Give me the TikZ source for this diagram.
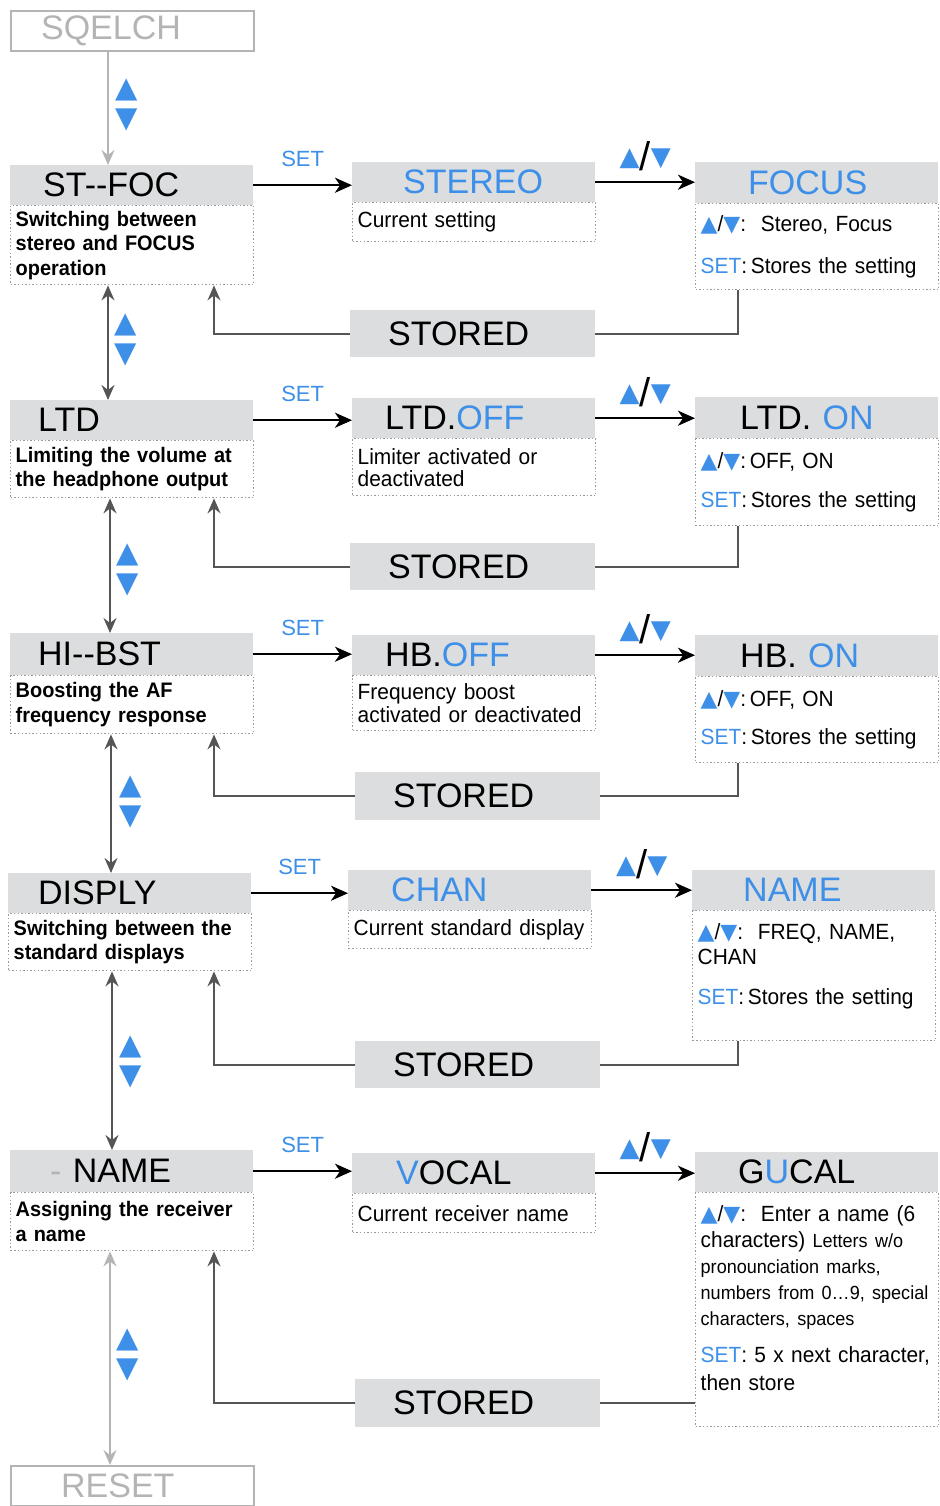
\documentclass[tikz,border=0pt]{standalone}
\usepackage{fontspec}
\setmainfont{Liberation Sans}
\newfontfamily\condfont[FakeStretch=0.95]{Liberation Sans}
\newfontfamily\symfont{DejaVu Sans}
\usetikzlibrary{arrows.meta,positioning}
\definecolor{boxgray}{HTML}{DCDDDE}
\definecolor{setblue}{HTML}{3D8FE8}
\definecolor{darkline}{HTML}{555555}
\definecolor{fadegray}{HTML}{B4B4B4}
\definecolor{dotgray}{HTML}{9A9A9A}
\newcommand{\titlefont}{\fontsize{34}{40}\selectfont}
\newcommand{\descfont}{\condfont\bfseries\fontsize{21}{24.5}\selectfont\hyphenpenalty=10000}
\newcommand{\infofont}{\condfont\fontsize{22}{25}\selectfont\hyphenpenalty=10000}
\newcommand{\smallinfo}{\fontsize{19}{25}\selectfont}
\newcommand{\bluetri}[1]{{\symfont\color{setblue}#1}}
\newcommand{\updn}{\bluetri{▲}/\bluetri{▼}}
\newcommand{\setkey}{\textcolor{setblue}{SET}}
\newcommand{\keyslash}{\bluetri{▲}\raisebox{-5pt}{\fontsize{40}{40}\selectfont/}\bluetri{▼}}
\tikzset{
  titlebox/.style={
    anchor=north west,
    fill=boxgray,
    inner sep=0pt,
    minimum width=243pt,
    minimum height=40pt,
    text width=243pt,
    align=left,
    font=\titlefont
  },
  storedbox/.style={
    titlebox,
    minimum width=245pt,
    text width=245pt,
    minimum height=47pt
  },
  pagebox/.style={
    titlebox,
    fill=none,
    draw=fadegray,
    line width=2.2pt,
    text=fadegray
  },
  descbox/.style={
    anchor=north west,
    draw=dotgray,
    line width=1.4pt,
    dash pattern=on 1.4pt off 2.2pt,
    inner xsep=5pt,
    inner ysep=0pt,
    minimum width=243pt,
    text width=233pt,
    align=left,
    font=\descfont
  },
  infobox/.style={
    descbox,
    font=\infofont
  },
  flow/.style={
    -{Stealth[length=17pt,width=15pt,inset=5pt]},
    line width=2.2pt
  },
  back/.style={
    draw=darkline,
    line width=2pt
  },
  backarrow/.style={
    back,
    -{Stealth[length=15pt,width=13pt,inset=5pt]}
  },
  updown/.style={
    back,
    {Stealth[length=15pt,width=13pt,inset=5pt]}-{Stealth[length=15pt,width=13pt,inset=5pt]}
  },
  setlabel/.style={
    font=\fontsize{22}{22}\selectfont,
    text=setblue,
    inner sep=0pt
  },
  keylabel/.style={
    font=\fontsize{26}{26}\selectfont,
    inner sep=0pt
  },
  keypair/.style={
    font=\symfont\fontsize{29}{30}\selectfont,
    align=center,
    inner sep=0pt
  }
}

\begin{document}
\begin{tikzpicture}[x=1pt,y=-1pt]
\useasboundingbox (0,0) rectangle (939,1506);

% bodies first, titles on top
\node[descbox, minimum height=79pt] (stfocbody) at (10,205) {Switching between\\stereo and FOCUS\\operation};
\node[infobox, minimum height=39pt] (stereobody) at (352,202) {Current setting};
\node[infobox, minimum height=86pt] (focusbody) at (695,203) {\updn:\ \ Stereo, Focus\\[17pt]\setkey:\,Stores the setting};

\node[descbox, minimum height=57pt] (ltdbody) at (10,440) {Limiting the volume at\\the headphone output};
\node[infobox, minimum height=57pt] (ltdoffbody) at (352,438) {Limiter activated or\\[-3pt]deactivated};
\node[infobox, minimum height=87pt] (ltdonbody) at (695,438) {\updn:\,OFF, ON\\[14pt]\setkey:\,Stores the setting};

\node[descbox, minimum height=58pt] (hibstbody) at (10,675) {Boosting the AF\\frequency response};
\node[infobox, minimum height=55pt] (hboffbody) at (352,675) {Frequency boost\\[-2pt]activated or deactivated};
\node[infobox, minimum height=86pt] (hbonbody) at (695,676) {\updn:\,OFF, ON\\[13pt]\setkey:\,Stores the setting};

\node[descbox, minimum height=57pt] (displybody) at (8,913) {Switching between the\\standard displays};
\node[infobox, minimum height=38pt] (chanbody) at (348,910) {Current standard display};
\node[infobox, minimum height=130pt] (nameselbody) at (692,910) {\updn:\ \ FREQ, NAME,\\CHAN\\[15pt]\setkey:\,Stores the setting\\[-2pt]\mbox{}};

\node[descbox, minimum height=58pt] (rxnamebody) at (10,1192) {Assigning the receiver\\a name};
\node[infobox, minimum height=39pt] (vocalbody) at (352,1193) {Current receiver name};
\node[infobox, minimum height=234pt, font=\infofont\fontsize{22}{26}\selectfont] (gucalbody) at (695,1192) {\updn:\ \ Enter a name (6\\
characters) {\smallinfo Letters w/o}\\
{\smallinfo pronounciation marks,}\\
{\smallinfo numbers from 0…9, special}\\
{\smallinfo characters, spaces}\\[11pt]
\setkey: 5 x next character,\\[2pt]
then store\\[-2pt]\mbox{}};

% titles
\node[pagebox] (sqelch) at (10,10) {\hspace*{30pt}SQELCH};
\node[titlebox] (stfoc) at (10,165) {\hspace*{33pt}ST-{}-FOC};
\node[titlebox] (stereo) at (352,162) {\hspace*{51pt}\textcolor{setblue}{STEREO}};
\node[titlebox, minimum height=41pt] (focus) at (695,162) {\hspace*{53pt}\textcolor{setblue}{FOCUS}};
\node[storedbox] (stored1) at (350,310) {\hspace*{38pt}STORED};

\node[titlebox] (ltd) at (10,400) {\hspace*{28pt}LTD};
\node[titlebox] (ltdoff) at (352,398) {\hspace*{33pt}LTD.\textcolor{setblue}{OFF}};
\node[titlebox, minimum height=41pt] (ltdon) at (695,397) {\hspace*{45pt}LTD. \textcolor{setblue}{ON}};
\node[storedbox] (stored2) at (350,543) {\hspace*{38pt}STORED};

\node[titlebox, minimum height=42pt] (hibst) at (10,633) {\hspace*{28pt}HI-{}-BST};
\node[titlebox] (hboff) at (352,635) {\hspace*{33pt}HB.\textcolor{setblue}{OFF}};
\node[titlebox, minimum height=41pt] (hbon) at (695,635) {\hspace*{45pt}HB. \textcolor{setblue}{ON}};
\node[storedbox, minimum width=244pt, minimum height=48pt] (stored3) at (355,772) {\hspace*{38pt}STORED};

\node[titlebox] (disply) at (8,873) {\hspace*{30pt}DISPLY};
\node[titlebox] (chan) at (348,870) {\hspace*{43pt}\textcolor{setblue}{CHAN}};
\node[titlebox] (namesel) at (692,870) {\hspace*{51pt}\textcolor{setblue}{NAME}};
\node[storedbox, minimum width=244pt] (stored4) at (355,1041) {\hspace*{38pt}STORED};

\node[titlebox, minimum height=42pt] (rxname) at (10,1150) {\hspace*{40pt}\textcolor{fadegray}{-} NAME};
\node[titlebox] (vocal) at (352,1153) {\hspace*{44pt}\textcolor{setblue}{V}OCAL};
\node[titlebox] (gucal) at (695,1152) {\hspace*{43pt}G\textcolor{setblue}{U}CAL};
\node[storedbox, minimum width=244pt, minimum height=48pt] (stored5) at (355,1379) {\hspace*{38pt}STORED};
\node[pagebox] (reset) at (10,1465) {\hspace*{50pt}RESET};

% SET and up/down connectors
\draw[flow] (stfoc.east) -- node[setlabel, above=17pt] (set1) {SET} (stfoc.east -| stereo.west);
\draw[flow] (stereo.east) -- node[keylabel, above=10pt] (key1) {\keyslash} (stereo.east -| focus.west);
\draw[flow] (ltd.east) -- node[setlabel, above=17pt] (set2) {SET} (ltd.east -| ltdoff.west);
\draw[flow] (ltdoff.east) -- node[keylabel, above=10pt] (key2) {\keyslash} (ltdoff.east -| ltdon.west);
\draw[flow] (hibst.east) -- node[setlabel, above=17pt] (set3) {SET} (hibst.east -| hboff.west);
\draw[flow] (hboff.east) -- node[keylabel, above=10pt] (key3) {\keyslash} (hboff.east -| hbon.west);
\draw[flow] (disply.east) -- node[setlabel, above=17pt] (set4) {SET} (disply.east -| chan.west);
\draw[flow] (chan.east) -- node[keylabel, above=10pt] (key4) {\keyslash} (chan.east -| namesel.west);
\draw[flow] (rxname.east) -- node[setlabel, above=17pt] (set5) {SET} (rxname.east -| vocal.west);
\draw[flow] (vocal.east) -- node[keylabel, above=10pt] (key5) {\keyslash} (vocal.east -| gucal.west);

% STORED returns
\draw[back] ([xshift=43pt]focusbody.south west) |- (stored1.east);
\draw[backarrow] (stored1.west) -| ([xshift=204pt]stfocbody.south west);
\draw[back] ([xshift=43pt]ltdonbody.south west) |- (stored2.east);
\draw[backarrow] (stored2.west) -| ([xshift=204pt]ltdbody.south west);
\draw[back] ([xshift=43pt]hbonbody.south west) |- (stored3.east);
\draw[backarrow] (stored3.west) -| ([xshift=204pt]hibstbody.south west);
\draw[back] ([xshift=46pt]nameselbody.south west) |- (stored4.east);
\draw[backarrow] (stored4.west) -| ([xshift=206pt]displybody.south west);
\draw[back] (stored5.east) -- (stored5.east -| gucalbody.west);
\draw[backarrow] (stored5.west) -| ([xshift=204pt]rxnamebody.south west);

% menu steps
\draw[backarrow, draw=fadegray] ([xshift=98pt]sqelch.south west) -- ([xshift=98pt]stfoc.north west);
\draw[updown] ([xshift=98pt]stfocbody.south west) -- ([xshift=98pt]ltd.north west);
\draw[updown] ([xshift=100pt]ltdbody.south west) -- ([xshift=100pt]hibst.north west);
\draw[updown] ([xshift=101pt]hibstbody.south west) -- ([xshift=103pt]disply.north west);
\draw[updown] ([xshift=104pt]displybody.south west) -- ([xshift=102pt]rxname.north west);
\draw[updown, draw=fadegray] ([xshift=100pt]rxnamebody.south west) -- ([xshift=100pt]reset.north west);

\node[keypair] (pair0) at (127,105) {\bluetri{▲}\\\bluetri{▼}};
\node[keypair] (pair1) at (126,340) {\bluetri{▲}\\\bluetri{▼}};
\node[keypair] (pair2) at (128,570) {\bluetri{▲}\\\bluetri{▼}};
\node[keypair] (pair3) at (131,802) {\bluetri{▲}\\\bluetri{▼}};
\node[keypair] (pair4) at (131,1062) {\bluetri{▲}\\\bluetri{▼}};
\node[keypair] (pair5) at (128,1355) {\bluetri{▲}\\\bluetri{▼}};
\end{tikzpicture}
\end{document}
